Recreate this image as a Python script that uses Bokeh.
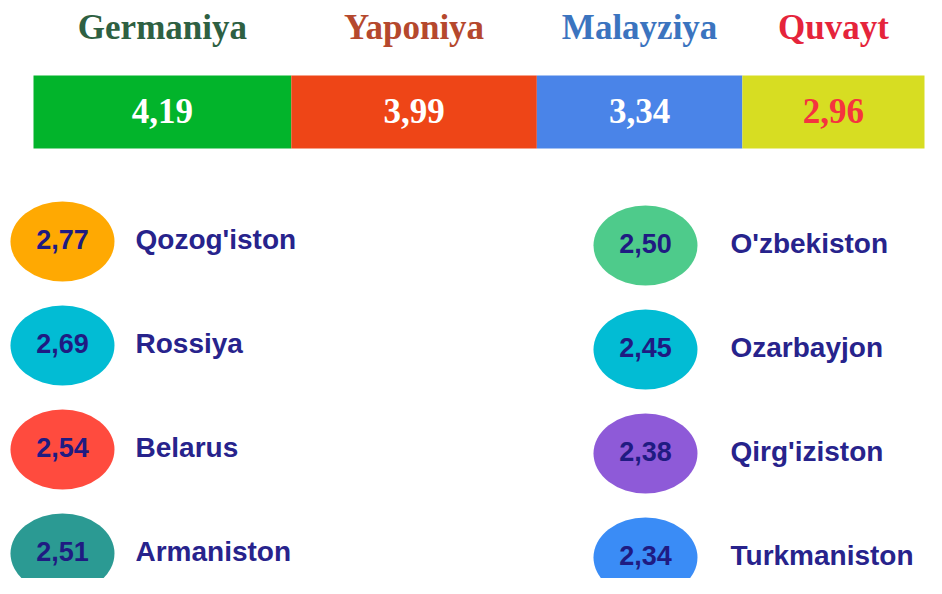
from bokeh.plotting import figure
from bokeh.models import Range1d, ColumnDataSource
from bokeh.core.properties import value
from bokeh.embed import file_html
from bokeh.resources import INLINE

# ---- data ----
top_countries = ["Germaniya", "Yaponiya", "Malayziya", "Quvayt"]
top_values = [4.19, 3.99, 3.34, 2.96]
top_colors = ["#02b42b", "#ee4517", "#4a84e8", "#d7dd22"]
top_name_colors = ["#2e6042", "#b5482d", "#3b74bf", "#e5243b"]
top_value_colors = ["#ffffff", "#ffffff", "#ffffff", "#f5333f"]

left_countries = ["Qozog'iston", "Rossiya", "Belarus", "Armaniston"]
left_values = [2.77, 2.69, 2.54, 2.51]
left_colors = ["#ffa902", "#02bcd4", "#ff4b3e", "#2b9a93"]

right_countries = ["O'zbekiston", "Ozarbayjon", "Qirg'iziston", "Turkmaniston"]
right_values = [2.50, 2.45, 2.38, 2.34]
right_colors = ["#4ecb8b", "#02bcd4", "#8e5ad8", "#3a8cf6"]


def fmt(v):
    return f"{v:.2f}".replace(".", ",")


W, H = 926, 578
p = figure(width=W, height=H, x_range=Range1d(0, W), y_range=Range1d(H, 0),
           x_axis_location=None, y_axis_location=None, min_border=0,
           toolbar_location=None, output_backend="svg", outline_line_color=None,
           background_fill_color="white", border_fill_color="white")
p.grid.visible = False

# ---- stacked bar (value units on an extra x range) ----
total = sum(top_values)
bar_l, bar_r = 33, 924
k = (bar_r - bar_l) / total
start = -bar_l / k
p.extra_x_ranges = {"val": Range1d(start, start + W / k)}

lefts, rights = [], []
acc = 0.0
for v in top_values:
    lefts.append(acc)
    acc += v
    rights.append(acc)
mids = [(a + b) / 2 for a, b in zip(lefts, rights)]

bar_src = ColumnDataSource(dict(left=lefts, right=rights, mid=mids,
                                y=[111.5] * 4, color=top_colors,
                                name=top_countries, ncolor=top_name_colors,
                                label=[fmt(v) for v in top_values],
                                lcolor=top_value_colors, ty=[27] * 4, vy=[110] * 4))
p.hbar(y="y", left="left", right="right", height=73, fill_color="color",
       line_color=None, source=bar_src, x_range_name="val")
p.text(x="mid", y="ty", text="name", text_color="ncolor", source=bar_src,
       x_range_name="val", text_align="center", text_baseline="alphabetic",
       text_font=value("Liberation Serif"), text_font_style="bold",
       text_font_size="35px")
p.text(x="mid", y="vy", text="label", text_color="lcolor", source=bar_src,
       x_range_name="val", text_align="center", text_baseline="alphabetic",
       text_font=value("Liberation Serif"), text_font_style="bold",
       text_font_size="35px")

# ---- bubbles ----
def bubbles(names, vals, colors, cx, y0, tx):
    ys = [y0 + 104 * i for i in range(len(names))]
    src = ColumnDataSource(dict(x=[cx] * len(names), y=ys,
                                ty=[y - 2 for y in ys], tx=[tx] * len(names),
                                name=names, label=[fmt(v) for v in vals],
                                color=colors))
    p.ellipse(x="x", y="y", width=104, height=80, fill_color="color",
              line_color=None, source=src)
    p.text(x="x", y="ty", text="label", source=src, text_align="center",
           text_baseline="alphabetic", text_color="#1f1b82",
           text_font=value("Liberation Sans"), text_font_style="bold",
           text_font_size="27px")
    p.text(x="tx", y="ty", text="name", source=src, text_align="left",
           text_baseline="alphabetic", text_color="#27238c",
           text_font=value("Liberation Sans"), text_font_style="bold",
           text_font_size="28px")

bubbles(left_countries, left_values, left_colors, 62, 241, 135)
bubbles(right_countries, right_values, right_colors, 645, 245, 730)

open("out.html", "w").write(file_html(p, INLINE))
